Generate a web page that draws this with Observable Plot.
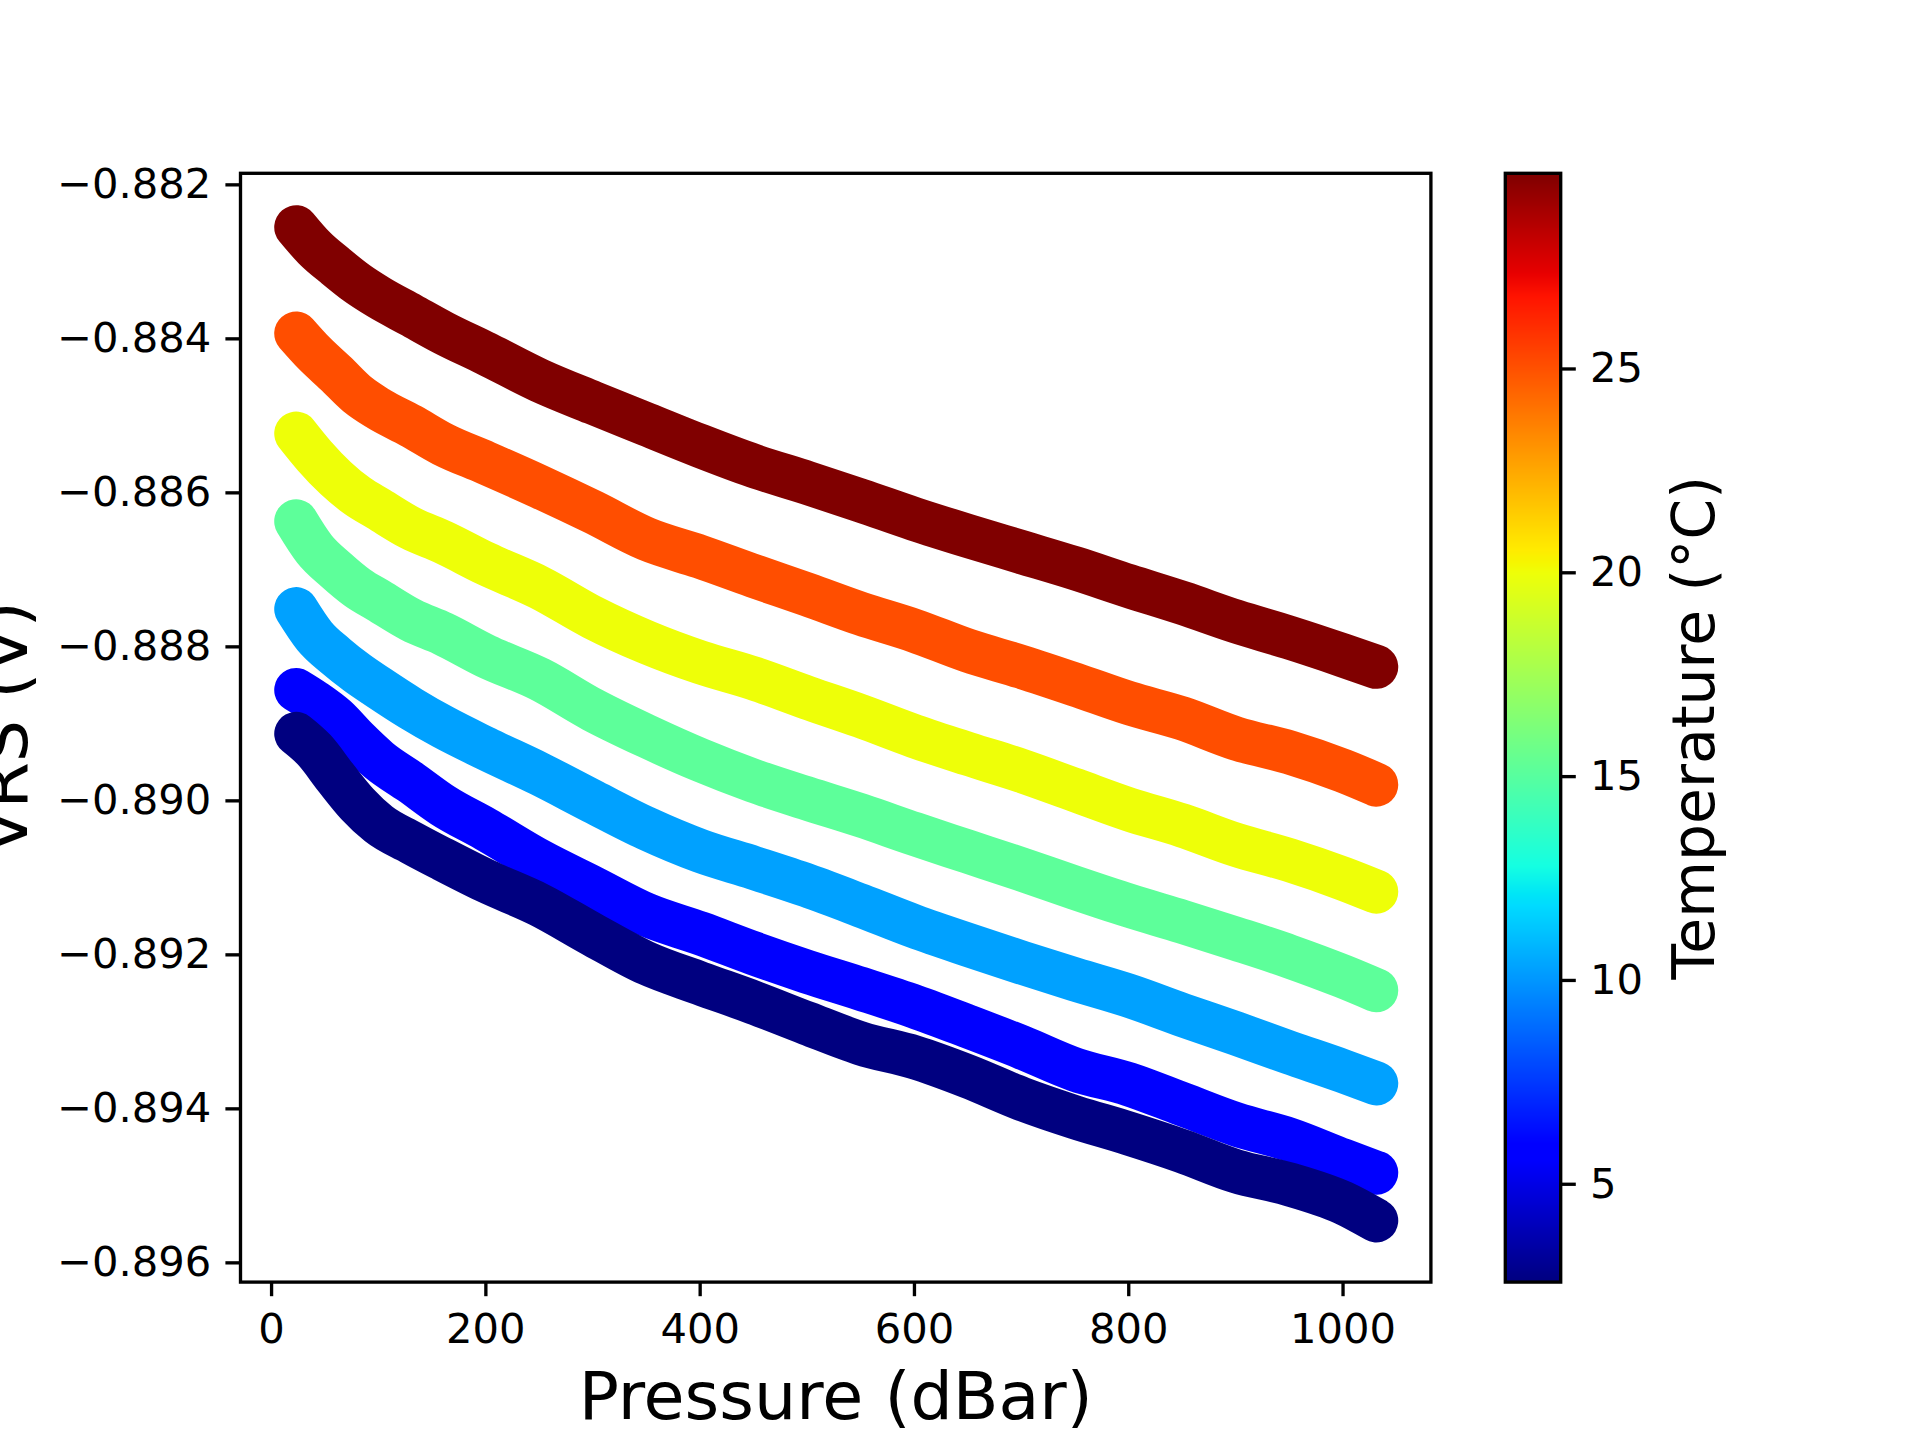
<!DOCTYPE html>
<html>
<head>
<meta charset="utf-8">
<script src="https://cdn.jsdelivr.net/npm/d3@7"></script>
<script src="https://cdn.jsdelivr.net/npm/@observablehq/plot@0.6"></script>
<style>
  html, body { margin: 0; padding: 0; background: #fff; }
  #chart { position: relative; width: 1920px; height: 1440px; overflow: hidden; background: #fff; }
  #chart svg { position: absolute; left: 0; top: 0; }
</style>
</head>
<body>
<div id="chart"></div>
<script>
// ---- data ----
const pressure = [23, 40, 60, 80, 100, 130, 160, 200, 250, 300, 350, 400, 450, 500, 550, 600, 650, 700, 750, 800, 850, 900, 950, 1000, 1031];

const temperatures = [29.8, 25.1, 20.0, 15.2, 10.3, 5.9, 2.6];

const vrsT30 = [-0.88255, -0.88282, -0.88306, -0.88328, -0.88346, -0.88369, -0.88392, -0.88419, -0.88454, -0.88483, -0.88511, -0.88539, -0.88565, -0.88587, -0.88610, -0.88634, -0.88656, -0.88677, -0.88698, -0.88721, -0.88743, -0.88767, -0.88788, -0.88811, -0.88826];
const vrsT25 = [-0.88393, -0.88419, -0.88445, -0.88472, -0.88491, -0.88513, -0.88537, -0.88561, -0.88592, -0.88625, -0.88660, -0.88683, -0.88708, -0.88732, -0.88757, -0.88779, -0.88805, -0.88826, -0.88849, -0.88873, -0.88893, -0.88919, -0.88937, -0.88961, -0.88979];
const vrsT20 = [-0.88523, -0.88552, -0.88581, -0.88604, -0.88621, -0.88646, -0.88664, -0.88692, -0.88723, -0.88762, -0.88794, -0.88820, -0.88841, -0.88866, -0.88890, -0.88916, -0.88939, -0.88961, -0.88986, -0.89011, -0.89032, -0.89057, -0.89077, -0.89101, -0.89118];
const vrsT15 = [-0.88637, -0.88673, -0.88700, -0.88723, -0.88740, -0.88765, -0.88783, -0.88812, -0.88842, -0.88882, -0.88916, -0.88947, -0.88974, -0.88997, -0.89019, -0.89043, -0.89066, -0.89089, -0.89113, -0.89136, -0.89157, -0.89179, -0.89202, -0.89228, -0.89246];
const vrsT10 = [-0.88751, -0.88786, -0.88812, -0.88834, -0.88853, -0.88880, -0.88904, -0.88932, -0.88965, -0.89001, -0.89036, -0.89065, -0.89087, -0.89110, -0.89136, -0.89163, -0.89187, -0.89210, -0.89232, -0.89253, -0.89278, -0.89302, -0.89327, -0.89351, -0.89367];
const vrsT6  = [-0.88856, -0.88871, -0.88892, -0.88921, -0.88947, -0.88976, -0.89006, -0.89037, -0.89078, -0.89113, -0.89148, -0.89172, -0.89198, -0.89222, -0.89244, -0.89267, -0.89293, -0.89320, -0.89349, -0.89368, -0.89394, -0.89420, -0.89440, -0.89467, -0.89483];
const vrsT3  = [-0.88913, -0.88934, -0.88970, -0.89004, -0.89030, -0.89054, -0.89076, -0.89104, -0.89135, -0.89174, -0.89211, -0.89237, -0.89262, -0.89289, -0.89315, -0.89333, -0.89358, -0.89387, -0.89411, -0.89432, -0.89455, -0.89481, -0.89498, -0.89522, -0.89545];

const xTicks = [0, 200, 400, 600, 800, 1000];
const yTicks = [-0.896, -0.894, -0.892, -0.890, -0.888, -0.886, -0.884, -0.882];
const cbarTicks = [5, 10, 15, 20, 25];
const tempRange = [2.6, 29.8];

// ---- table for the library ----
const seriesValues = [vrsT30, vrsT25, vrsT20, vrsT15, vrsT10, vrsT6, vrsT3];
const rows = seriesValues.flatMap((vals, i) =>
  vals.map((v, j) => ({ p: pressure[j], v, T: temperatures[i] }))
);

// ---- matplotlib "jet" colormap ----
const jetR = [[0, 0], [0.35, 0], [0.66, 1], [0.89, 1], [1, 0.5]];
const jetG = [[0, 0], [0.125, 0], [0.375, 1], [0.64, 1], [0.91, 0], [1, 0]];
const jetB = [[0, 0.5], [0.11, 1], [0.34, 1], [0.65, 0], [1, 0]];
function seg(pts, t) {
  t = Math.max(0, Math.min(1, t));
  for (let i = 0; i < pts.length - 1; i++) {
    const [x0, y0] = pts[i], [x1, y1] = pts[i + 1];
    if (t <= x1) return x1 === x0 ? y1 : y0 + (y1 - y0) * (t - x0) / (x1 - x0);
  }
  return pts[pts.length - 1][1];
}
const jet = (t) => `rgb(${Math.round(255 * seg(jetR, t))},${Math.round(255 * seg(jetG, t))},${Math.round(255 * seg(jetB, t))})`;

// ---- geometry (matplotlib default 6.4x4.8in @300dpi with colorbar) ----
const W = 1920, H = 1440;
const axL = 240, axR = 1430.4, axT = 172.8, axB = 1281.6;
const cbL = 1504.8, cbR = 1560.2;
const tickFont = 41.67, axisLabelFont = 66.67, cbarLabelFont = 58.33, lw = 3.33, tickLen = 14.6;
const fontFamily = "'DejaVu Sans', 'Liberation Sans', sans-serif";

const colorScale = { type: "linear", domain: tempRange, interpolate: jet };

const main = Plot.plot({
  width: W, height: H,
  marginLeft: axL, marginRight: W - axR, marginTop: axT, marginBottom: H - axB,
  style: { fontFamily, background: "white", color: "black", overflow: "visible" },
  x: { domain: [-29, 1082] },
  y: { domain: [-0.89625, -0.88185] },
  color: colorScale,
  marks: [
    Plot.line(rows, {
      x: "p", y: "v", z: "T", stroke: "T", curve: "monotone-x",
      strokeWidth: 44, strokeLinecap: "round", strokeLinejoin: "round"
    }),
    Plot.frame({ stroke: "black", strokeWidth: lw }),
    Plot.axisX({
      ticks: xTicks, tickSize: tickLen, tickPadding: 16.7, strokeWidth: lw,
      fontSize: tickFont, label: null, tickFormat: d3.format("d")
    }),
    Plot.axisY({
      ticks: yTicks, tickSize: tickLen, tickPadding: 14.6, strokeWidth: lw,
      fontSize: tickFont, label: null, tickFormat: d3.format(".3f")
    }),
    Plot.text(["Pressure (dBar)"], {
      text: (d) => d, frameAnchor: "bottom", textAnchor: "middle", lineAnchor: "middle",
      dy: 115.6, fontSize: axisLabelFont
    }),
    Plot.text(["VRS (V)"], {
      text: (d) => d, frameAnchor: "left", textAnchor: "middle", lineAnchor: "middle",
      rotate: -90, dx: -235.3, fontSize: axisLabelFont
    })
  ]
});

const cbar = Plot.plot({
  width: W, height: H,
  marginLeft: cbL, marginRight: W - cbR, marginTop: axT, marginBottom: H - axB,
  style: { fontFamily, background: "transparent", color: "black", overflow: "visible" },
  x: { domain: [0, 1], axis: null },
  y: { domain: tempRange },
  color: colorScale,
  marks: [
    Plot.raster({ fill: (x, y) => y, x1: 0, x2: 1, y1: tempRange[0], y2: tempRange[1] }),
    Plot.frame({ stroke: "black", strokeWidth: lw }),
    Plot.axisY({
      anchor: "right", ticks: cbarTicks, tickSize: tickLen, tickPadding: 14.6,
      strokeWidth: lw, fontSize: tickFont, label: null, tickFormat: d3.format("d")
    }),
    Plot.text(["Temperature (°C)"], {
      text: (d) => d, frameAnchor: "right", textAnchor: "middle", lineAnchor: "middle",
      rotate: -90, dx: 135.1, fontSize: cbarLabelFont
    })
  ]
});

const chart = document.getElementById("chart");
chart.appendChild(main);
chart.appendChild(cbar);
</script>
</body>
</html>
